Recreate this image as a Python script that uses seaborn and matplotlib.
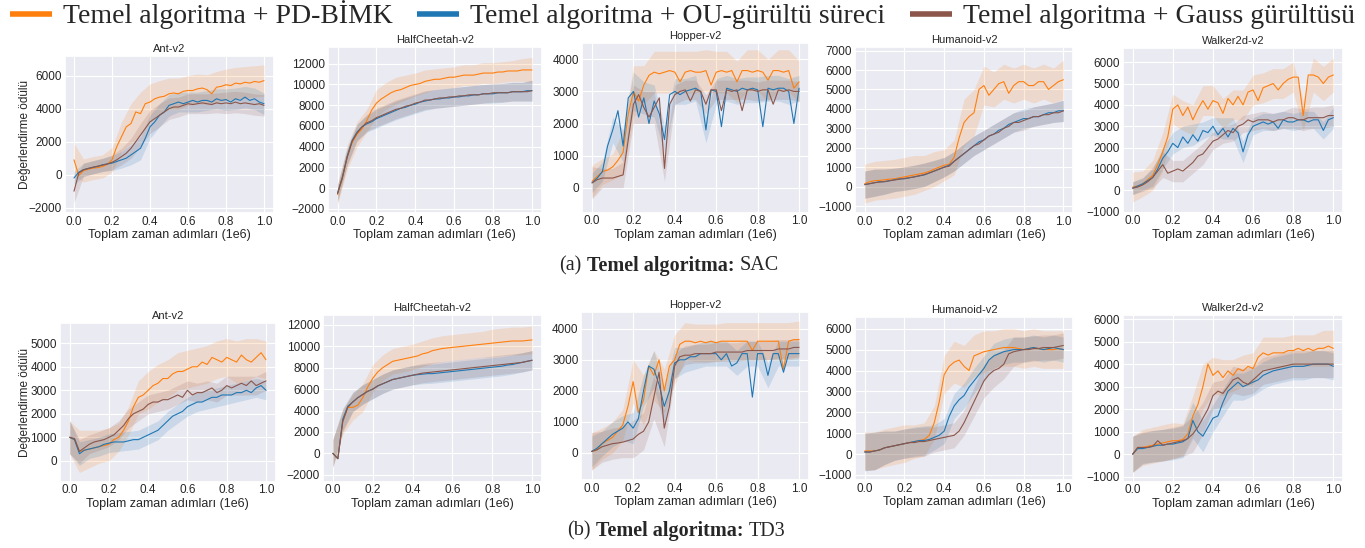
import numpy as np
import pandas as pd
import matplotlib
matplotlib.use("Agg")
import matplotlib.pyplot as plt
import seaborn as sns
from matplotlib.lines import Line2D
from matplotlib.ticker import MultipleLocator

sns.set_theme(style="darkgrid")
plt.rcParams["font.family"] = ["Liberation Sans", "DejaVu Sans"]

# ------------------------------------------------------------
# shared settings
# ------------------------------------------------------------
steps = np.linspace(0, 1, 41)          # evaluation points (1e6 steps)
band_steps = steps[::2]                 # points where the spread was read

envs = ["Ant-v2", "HalfCheetah-v2", "Hopper-v2", "Humanoid-v2", "Walker2d-v2"]
methods = ["pd", "ou", "gs"]
method_labels = ["Temel algoritma + PD-BİMK",
                 "Temel algoritma + OU-gürültü süreci",
                 "Temel algoritma + Gauss gürültüsü"]
method_colors = ["#ff7f0e", "#1f77b4", "#8c564b"]

# ------------------------------------------------------------
# SAC (top row)
# ------------------------------------------------------------
sac_ant_pd = [900, -50, 250, 330, 400, 430, 500, 620, 900, 1700, 2300, 2900, 3100, 3800, 3700, 4300, 4400, 4600, 4700, 4750,
              4900, 4950, 4900, 5050, 5100, 5100, 5200, 5250, 5150, 4900, 5300, 5350, 5450, 5400, 5550, 5500, 5600, 5550, 5650, 5600, 5700]
sac_ant_ou = [-200, 150, 300, 380, 450, 500, 600, 650, 700, 800, 900, 1000, 1200, 1400, 1600, 2200, 2900, 3200, 3600, 3800,
              4200, 4300, 4400, 4300, 4400, 4500, 4400, 4500, 4500, 4400, 4600, 4500, 4550, 4400, 4600, 4500, 4700, 4500, 4600, 4400, 4300]
sac_ant_gs = [-1000, 100, 300, 380, 450, 520, 580, 650, 750, 900, 1100, 1300, 1600, 2000, 2400, 2800, 3200, 3400, 3600, 3800,
              4000, 4100, 4100, 4200, 4300, 4250, 4300, 4350, 4300, 4250, 4350, 4300, 4350, 4300, 4400, 4300, 4350, 4300, 4250, 4300, 4200]
sac_ant_pd_sd = [1000, 700, 700, 700, 750, 900, 1200, 1300, 1100, 1000, 950, 950, 900, 900, 900, 950, 950, 950, 950, 950, 950]
sac_ant_ou_sd = [400, 400, 400, 400, 450, 500, 600, 700, 700, 700, 650, 600, 600, 600, 600, 600, 650, 650, 650, 650, 650]
sac_ant_gs_sd = [700, 400, 400, 400, 450, 500, 600, 700, 700, 700, 650, 600, 600, 600, 600, 600, 650, 650, 650, 650, 650]

sac_hc_pd = [-600, 900, 3000, 4400, 5200, 5700, 6500, 7500, 8200, 8600, 8900, 9200, 9400, 9500, 9700, 9900, 10000, 10100, 10300, 10400,
             10500, 10500, 10600, 10700, 10700, 10800, 10900, 10900, 10900, 11000, 11100, 11100, 11100, 11200, 11200, 11300, 11300, 11300, 11400, 11400, 11400]
sac_hc_ou = [-500, 1000, 3100, 4600, 5400, 5900, 6200, 6400, 6700, 6900, 7100, 7300, 7500, 7700, 7800, 8000, 8100, 8300, 8400, 8500,
             8600, 8600, 8700, 8700, 8800, 8800, 8900, 8900, 9000, 9000, 9100, 9100, 9100, 9200, 9200, 9200, 9300, 9300, 9300, 9400, 9400]
sac_hc_gs = [-500, 1100, 3000, 4500, 5300, 5900, 6300, 6500, 6800, 7000, 7200, 7400, 7600, 7700, 7900, 8000, 8200, 8300, 8500, 8500,
             8600, 8700, 8700, 8800, 8800, 8900, 8900, 9000, 9000, 9000, 9100, 9100, 9200, 9200, 9200, 9200, 9300, 9300, 9300, 9300, 9400]
sac_hc_pd_sd = [1000, 1200, 1200, 1100, 1300, 1300, 1300, 1200, 1100, 1100, 1000, 1000, 1000, 1000, 1000, 1000, 1000, 1000, 1000, 1100, 1200]
sac_hc_ou_sd = [800, 800, 800, 800, 900, 900, 900, 900, 900, 900, 900, 900, 900, 900, 900, 900, 900, 900, 900, 900, 1000]
sac_hc_gs_sd = [800, 800, 800, 800, 900, 900, 900, 900, 900, 900, 900, 900, 900, 900, 900, 900, 900, 900, 900, 900, 1000]

sac_hop_pd = [200, 350, 500, 550, 650, 850, 1100, 2300, 3000, 2700, 3200, 3500, 3600, 3550, 3600, 3650, 3600, 3300, 3600, 3650,
              3600, 3600, 3650, 3200, 3600, 3650, 3600, 3650, 3300, 3650, 3650, 3600, 3650, 3600, 3350, 3650, 3650, 3600, 3650, 3100, 3300]
sac_hop_ou = [150, 300, 500, 1300, 1800, 2400, 1300, 2800, 3000, 2200, 2800, 2000, 2700, 2300, 1500, 2900, 3000, 2900, 3000, 3050,
              3100, 3000, 1800, 3050, 3000, 1900, 3100, 3050, 3000, 3100, 3050, 3100, 3050, 1900, 3100, 3050, 3100, 3100, 3000, 2000, 3100]
sac_hop_gs = [150, 250, 300, 300, 300, 350, 400, 1500, 2600, 2900, 2500, 2200, 2500, 2800, 600, 2600, 2900, 3000, 3050, 2700,
              3050, 3000, 2600, 3050, 3050, 2400, 3050, 3000, 3050, 2400, 3050, 3050, 3000, 3050, 3050, 2600, 3050, 3000, 3050, 3000, 3000]
sac_hop_pd_sd = [500, 400, 400, 700, 800, 600, 650, 650, 650, 650, 650, 650, 650, 650, 650, 650, 650, 650, 650, 650, 650]
sac_hop_ou_sd = [300, 300, 400, 500, 600, 500, 500, 400, 400, 400, 400, 400, 400, 400, 400, 400, 400, 400, 400, 400, 400]
sac_hop_gs_sd = [500, 300, 300, 400, 600, 500, 500, 400, 300, 300, 300, 300, 300, 300, 300, 300, 300, 300, 300, 300, 300]

sac_hum_pd = [150, 250, 300, 320, 350, 380, 400, 450, 500, 550, 600, 650, 700, 780, 900, 1000, 1100, 1150, 1500, 2500,
              3300, 3600, 3800, 5000, 5200, 4700, 5000, 5300, 5400, 4800, 5200, 5400, 5400, 5200, 5200, 5400, 5400, 5000, 5200, 5400, 5500]
sac_hum_ou = [100, 150, 200, 250, 250, 300, 350, 400, 400, 450, 500, 550, 600, 700, 800, 900, 1000, 1100, 1300, 1500,
              1700, 1900, 2100, 2300, 2400, 2600, 2700, 2900, 3000, 3200, 3300, 3400, 3500, 3500, 3600, 3600, 3700, 3800, 3800, 3900, 3900]
sac_hum_gs = [100, 150, 200, 230, 260, 300, 340, 380, 420, 460, 500, 560, 620, 700, 800, 900, 1000, 1050, 1300, 1500,
              1700, 1900, 2100, 2200, 2400, 2600, 2700, 2800, 3000, 3100, 3300, 3300, 3400, 3500, 3600, 3600, 3700, 3700, 3800, 3800, 3900]
sac_hum_pd_sd = [1000, 1000, 1000, 1000, 1000, 1000, 900, 900, 800, 900, 1200, 1200, 1000, 900, 900, 900, 900, 900, 900, 900, 1000]
sac_hum_ou_sd = [700, 700, 650, 600, 600, 600, 600, 550, 500, 500, 500, 500, 500, 500, 500, 500, 500, 500, 500, 500, 550]
sac_hum_gs_sd = [700, 700, 650, 600, 600, 600, 600, 550, 500, 500, 500, 500, 500, 500, 500, 500, 500, 500, 500, 500, 550]

sac_walk_pd = [150, 200, 300, 500, 700, 1200, 1800, 2500, 3800, 4000, 3500, 3900, 3300, 3800, 4200, 3800, 4200, 4100, 3600, 4300,
               4000, 4400, 4000, 4600, 4700, 4200, 4800, 4900, 5000, 4700, 5000, 5200, 5300, 5300, 3500, 5400, 5400, 5300, 5000, 5300, 5400]
sac_walk_ou = [100, 200, 300, 450, 600, 1000, 1500, 1800, 2200, 2000, 2500, 2200, 2600, 2300, 2800, 2700, 3000, 2600, 2900, 2500,
               2900, 2700, 1800, 2600, 3000, 3100, 3200, 3100, 3200, 2900, 3300, 3200, 3200, 3300, 3300, 3200, 3300, 3300, 2800, 3300, 3400]
sac_walk_gs = [100, 150, 250, 400, 600, 900, 1200, 800, 900, 1000, 900, 1100, 1300, 1600, 1700, 2000, 2300, 2400, 2600, 2800,
               2700, 3000, 3100, 3300, 3200, 3300, 3300, 3300, 3200, 3300, 3300, 3400, 3400, 3300, 3300, 3400, 3400, 3400, 3400, 3500, 3500]
sac_walk_pd_sd = [700, 600, 700, 900, 700, 700, 700, 700, 700, 700, 700, 700, 700, 700, 700, 700, 700, 700, 800, 800, 800]
sac_walk_ou_sd = [300, 300, 400, 500, 500, 500, 500, 400, 400, 500, 500, 500, 400, 400, 400, 400, 400, 400, 400, 400, 500]
sac_walk_gs_sd = [300, 300, 500, 600, 500, 500, 500, 500, 400, 400, 400, 400, 400, 400, 400, 400, 500, 500, 500, 500, 500]

# ------------------------------------------------------------
# TD3 (bottom row)
# ------------------------------------------------------------
td3_ant_pd = [1000, 900, 400, 450, 500, 550, 600, 650, 700, 900, 1000, 1300, 1700, 2300, 2700, 2800, 3000, 3200, 3300, 3500,
              3500, 3700, 3800, 3800, 3900, 4000, 4000, 4200, 4100, 4400, 4300, 4200, 4400, 4300, 4200, 4500, 4300, 4200, 4400, 4600, 4300]
td3_ant_ou = [1000, 900, 300, 450, 500, 550, 600, 700, 750, 800, 800, 800, 850, 900, 900, 1000, 1100, 1200, 1300, 1500,
              1700, 1900, 2000, 2100, 2300, 2400, 2500, 2500, 2600, 2700, 2700, 2800, 2800, 2800, 2900, 2900, 3000, 2900, 3100, 3200, 3000]
td3_ant_gs = [1000, 950, 400, 550, 700, 800, 850, 900, 1000, 1100, 1300, 1500, 1800, 2000, 2100, 2200, 2400, 2500, 2500, 2600,
              2600, 2700, 2800, 2700, 3000, 2800, 2900, 2900, 3000, 3100, 2900, 3000, 3200, 3100, 3200, 3300, 3200, 3400, 3200, 3300, 3400]
td3_ant_pd_sd = [700, 900, 800, 700, 700, 600, 600, 700, 800, 800, 800, 800, 800, 800, 800, 800, 800, 900, 900, 800, 800]
td3_ant_ou_sd = [700, 500, 400, 400, 400, 400, 400, 400, 400, 400, 400, 400, 400, 400, 400, 400, 400, 400, 400, 400, 400]
td3_ant_gs_sd = [700, 500, 400, 400, 400, 400, 400, 400, 400, 400, 400, 400, 400, 400, 400, 400, 400, 400, 400, 400, 400]

td3_hc_pd = [0, -500, 3000, 4300, 4300, 4500, 5200, 6200, 7000, 7600, 8000, 8300, 8600, 8700, 8800, 8900, 9000, 9100, 9300, 9400,
             9600, 9700, 9800, 9850, 9900, 9950, 10000, 10050, 10100, 10150, 10200, 10250, 10300, 10350, 10400, 10450, 10500, 10500, 10500, 10550, 10600]
td3_hc_ou = [0, -500, 3200, 4400, 4800, 5200, 5500, 5800, 6000, 6300, 6500, 6700, 6900, 7000, 7100, 7200, 7300, 7350, 7400, 7450,
             7450, 7500, 7550, 7600, 7650, 7700, 7750, 7800, 7850, 7900, 7950, 8000, 8050, 8100, 8150, 8250, 8300, 8400, 8500, 8600, 8700]
td3_hc_gs = [0, -500, 3000, 4300, 4800, 5200, 5500, 5800, 6000, 6300, 6500, 6700, 6900, 7000, 7100, 7200, 7300, 7400, 7500, 7550,
             7600, 7650, 7700, 7750, 7800, 7850, 7900, 7950, 8000, 8050, 8100, 8150, 8200, 8250, 8300, 8350, 8400, 8450, 8500, 8600, 8700]
td3_hc_pd_sd = [1300, 1200, 1200, 1300, 1300, 1200, 1200, 1200, 1200, 1200, 1200, 1200, 1200, 1200, 1200, 1200, 1300, 1300, 1300, 1300, 1300]
td3_hc_ou_sd = [1300, 1000, 900, 900, 900, 900, 900, 900, 900, 900, 900, 900, 900, 900, 900, 900, 900, 900, 900, 900, 900]
td3_hc_gs_sd = [1300, 1000, 900, 900, 900, 900, 900, 900, 900, 900, 900, 900, 900, 900, 900, 900, 900, 900, 900, 900, 900]

td3_hop_pd = [50, 100, 300, 400, 500, 700, 900, 1500, 2300, 1300, 1700, 2800, 2500, 3000, 2000, 2800, 3000, 3500, 3600, 3600,
              3550, 3600, 3550, 3600, 3550, 3600, 3600, 3600, 3600, 3600, 3600, 3300, 3600, 3600, 3600, 3600, 3600, 2700, 3600, 3650, 3650]
td3_hop_ou = [50, 150, 300, 450, 600, 700, 800, 1000, 800, 1100, 2000, 2800, 2700, 2200, 1500, 2000, 2900, 3000, 3000, 3100,
              3100, 3200, 3200, 3200, 3200, 3000, 3200, 2800, 2900, 3200, 3200, 1800, 3200, 3200, 2500, 3200, 3200, 2600, 3200, 3200, 3200]
td3_hop_gs = [50, 100, 200, 250, 300, 320, 350, 400, 450, 600, 700, 1000, 1800, 2600, 800, 1500, 2800, 3100, 3150, 3150,
              3200, 3200, 3200, 3200, 3250, 3250, 3250, 3250, 3250, 3250, 3300, 3300, 3300, 3300, 3300, 3300, 3350, 3350, 3350, 3400, 3400]
td3_hop_pd_sd = [600, 500, 500, 500, 700, 800, 800, 700, 800, 600, 600, 600, 600, 600, 600, 600, 600, 600, 600, 600, 600]
td3_hop_ou_sd = [500, 400, 400, 400, 500, 500, 600, 600, 500, 400, 400, 400, 400, 400, 400, 400, 400, 400, 400, 400, 400]
td3_hop_gs_sd = [600, 500, 500, 500, 600, 600, 700, 600, 400, 300, 300, 300, 300, 300, 300, 300, 300, 300, 300, 300, 300]

td3_hum_pd = [150, 150, 150, 200, 300, 350, 400, 450, 500, 550, 600, 650, 700, 900, 1500, 2500, 3800, 4200, 4400, 4500,
              4200, 4000, 4700, 4800, 4900, 4950, 5000, 5050, 5100, 5100, 5100, 5050, 5000, 5050, 5100, 5050, 5000, 5000, 5000, 5050, 5000]
td3_hum_ou = [100, 100, 150, 200, 300, 350, 400, 450, 500, 550, 600, 650, 650, 700, 800, 900, 1100, 1800, 2300, 2600,
              2800, 3200, 3500, 3800, 4100, 4500, 4700, 4800, 4900, 4950, 5000, 5000, 5000, 5050, 5100, 5050, 5000, 5050, 5100, 5050, 5000]
td3_hum_gs = [100, 100, 150, 200, 300, 350, 400, 450, 500, 550, 550, 600, 600, 650, 700, 750, 800, 850, 900, 1100,
              1500, 2000, 2500, 3000, 3500, 3800, 4000, 4100, 4300, 4800, 4900, 4950, 5000, 5000, 5050, 5050, 5100, 5100, 5100, 5150, 5200]
td3_hum_pd_sd = [900, 900, 900, 900, 900, 800, 800, 800, 900, 1000, 1000, 1000, 1000, 900, 900, 900, 900, 900, 900, 900, 900]
td3_hum_ou_sd = [900, 900, 800, 700, 700, 700, 700, 600, 600, 600, 600, 600, 600, 600, 600, 600, 600, 600, 600, 600, 600]
td3_hum_gs_sd = [900, 900, 800, 700, 700, 700, 700, 600, 600, 600, 600, 700, 800, 800, 700, 700, 600, 600, 600, 600, 600]

td3_walk_pd = [0, 300, 300, 350, 400, 450, 500, 550, 600, 600, 650, 900, 1700, 2200, 3000, 4000, 3500, 3700, 3400, 3700,
               3500, 3800, 3700, 3900, 3800, 4300, 4500, 4400, 4500, 4500, 4500, 4600, 4600, 4700, 4600, 4700, 4600, 4700, 4700, 4800, 4700]
td3_walk_ou = [0, 250, 250, 300, 350, 400, 400, 450, 450, 500, 550, 700, 1500, 1000, 800, 1200, 1600, 1700, 2300, 2800,
               3000, 3200, 3000, 3100, 3200, 3300, 3500, 3600, 3700, 3750, 3800, 3850, 3900, 3900, 3900, 3950, 4000, 4000, 4000, 4000, 3900]
td3_walk_gs = [0, 300, 300, 300, 350, 600, 400, 450, 500, 550, 600, 700, 900, 1200, 1600, 2000, 2600, 2800, 2700, 3000,
               3300, 3400, 3200, 3100, 3300, 3500, 3700, 3750, 3800, 3850, 3900, 3950, 4000, 4000, 4000, 4000, 4000, 4000, 4000, 4000, 4000]
td3_walk_pd_sd = [800, 800, 800, 800, 800, 700, 900, 1000, 800, 800, 700, 700, 700, 700, 700, 700, 700, 700, 700, 800, 800]
td3_walk_ou_sd = [800, 700, 700, 700, 700, 700, 800, 700, 600, 600, 600, 600, 600, 600, 600, 600, 600, 600, 600, 600, 600]
td3_walk_gs_sd = [800, 700, 700, 700, 700, 700, 800, 700, 600, 600, 600, 600, 600, 600, 600, 600, 600, 600, 600, 600, 600]

# ------------------------------------------------------------
# layout (axes boxes in pixels: left, right, top, bottom) and y ranges
# ------------------------------------------------------------
W, H = 1365, 548
sac_boxes = [(64.5, 273.5, 56, 213), (327.8, 541.7, 46.7, 213), (581.7, 809.4, 43.3, 212.7),
             (854.8, 1073.3, 46.7, 213), (1122.6, 1343.4, 48.3, 212.7)]
td3_boxes = [(59.8, 275.8, 323.3, 481.7), (322.9, 542, 315, 481.7), (581.3, 809.4, 311.7, 480),
             (854.8, 1073.3, 316.7, 480), (1122.6, 1343.4, 315, 481.7)]
sac_ylims = [(-2320, 7190), (-2390, 13640), (-780, 4500), (-1360, 7200), (-1050, 6650)]
td3_ylims = [(-890, 5850), (-2650, 12930), (-870, 4550), (-1240, 6575), (-1220, 6180)]
sac_ystep = [2000, 2000, 1000, 1000, 1000]
td3_ystep = [1000, 2000, 1000, 1000, 1000]

keys = ["ant", "hc", "hop", "hum", "walk"]


def panel_data(algo, key):
    g = globals()
    means = [np.asarray(g[f"{algo}_{key}_{m}"], dtype=float) for m in methods]
    sds = [np.asarray(g[f"{algo}_{key}_{m}_sd"], dtype=float) for m in methods]
    return means, sds


fig = plt.figure(figsize=(W / 100, H / 100), dpi=100)

for algo, boxes, ylims, ysteps in [("sac", sac_boxes, sac_ylims, sac_ystep),
                                   ("td3", td3_boxes, td3_ylims, td3_ystep)]:
    for i, key in enumerate(keys):
        l, r, t, b = boxes[i]
        ax = fig.add_axes([l / W, 1 - b / H, (r - l) / W, (b - t) / H])
        means, sds = panel_data(algo, key)

        # shaded spread first, mean curves on top
        for mean, sd, c in zip(means, sds, method_colors):
            m = mean[::2]
            ax.fill_between(band_steps, m - sd, m + sd, color=c, alpha=0.16, lw=0)

        df = pd.concat([pd.DataFrame({"step": steps, "reward": mean, "method": lab})
                        for mean, lab in zip(means, method_labels)])
        sns.lineplot(data=df, x="step", y="reward", hue="method", hue_order=method_labels,
                     palette=method_colors, linewidth=0.8, legend=False, ax=ax)

        ax.set_xlim(-0.05, 1.05)
        ax.set_ylim(*ylims[i])
        ax.set_xticks([0, 0.2, 0.4, 0.6, 0.8, 1.0])
        ax.set_xticklabels(["0.0", "0.2", "0.4", "0.6", "0.8", "1.0"])
        ax.yaxis.set_major_locator(MultipleLocator(ysteps[i]))
        ax.tick_params(labelsize=8.5, length=0, pad=2)
        ax.grid(linewidth=0.8)
        ax.set_xlabel("Toplam zaman adımları (1e6)", fontsize=9, labelpad=1)
        ax.set_title(envs[i], fontsize=8, pad=3)
        if i == 0:
            ax.set_ylabel("Değerlendirme ödülü", fontsize=8.5)
            ax.yaxis.set_label_coords((31 - l) / (r - l), 0.5)
        else:
            ax.set_ylabel("")

# legend across the top
handles = [Line2D([0], [0], color=c, lw=4, solid_capstyle="butt") for c in method_colors]
fig.legend(handles, method_labels, loc="upper center", bbox_to_anchor=(0.5, 1.045), ncol=3,
           frameon=False, prop={"family": "Liberation Serif", "size": 20},
           handlelength=1.5, handletextpad=0.4, columnspacing=0.9)

# sub-figure captions: "(x) **Temel algoritma:** ALGO"
renderer = fig.canvas.get_renderer()


def caption(xc, yc, tag, algo_name):
    parts = [(tag, "normal"), ("Temel algoritma:", "bold"), (algo_name, "normal")]
    objs, widths = [], []
    for s, wgt in parts:
        t = fig.text(0, 1 - yc / H, s, fontsize=14.5, family="Liberation Serif", fontweight=wgt, va="center")
        objs.append(t)
        widths.append(t.get_window_extent(renderer).width)
    gap = 14.5 * 0.25 * 100 / 72
    x = xc - (sum(widths) + 2 * gap) / 2
    for t, w in zip(objs, widths):
        t.set_x(x / W)
        x += w + gap


caption(669, 266, "(a)", "SAC")
caption(676, 531, "(b)", "TD3")

fig.savefig("out.png", dpi=100, facecolor="white")
